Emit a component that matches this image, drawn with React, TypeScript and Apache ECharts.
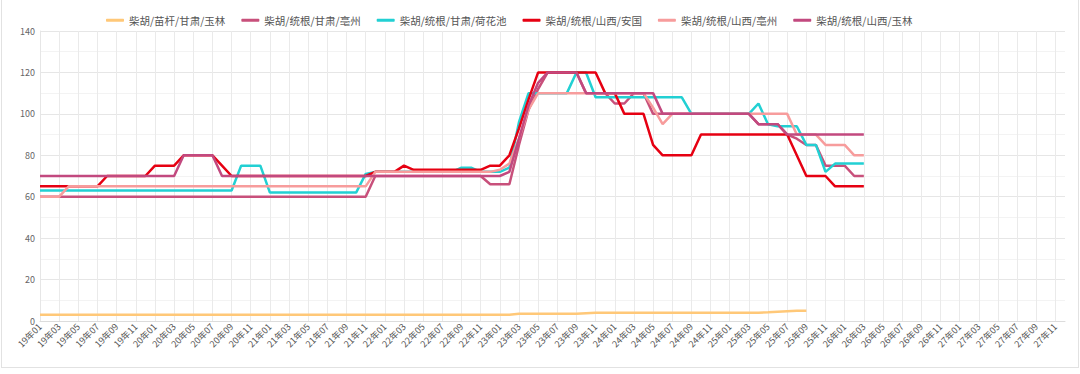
import React, { useEffect, useRef } from "react";
import * as echarts from "echarts";

const rep = (v: number, n: number): number[] => Array(n).fill(v);

// Month categories 19年01 .. 27年12
const categories: string[] = [];
for (let y = 19; y <= 27; y++) {
  for (let m = 1; m <= 12; m++) categories.push(`${y}年${String(m).padStart(2, "0")}`);
}

const seriesNames = [
  "柴胡/苗杆/甘肃/玉林",
  "柴胡/统根/甘肃/亳州",
  "柴胡/统根/甘肃/荷花池",
  "柴胡/统根/山西/安国",
  "柴胡/统根/山西/亳州",
  "柴胡/统根/山西/玉林",
];

const seriesColors = ["#FFC878", "#C8507B", "#22D0D3", "#E60012", "#F79C9C", "#C2497F"];

const miaoGanGansuYulin: number[] = [
  ...rep(3, 50), ...rep(3.5, 7), 3.8, ...rep(4, 18), 4.2, 4.5, 4.7, 4.9, 5,
];

const tongGenGansuBozhou: number[] = [
  ...rep(60, 35), ...rep(70, 12), ...rep(66, 3), 85, 102, 112, ...rep(120, 4),
  ...rep(110, 3), 105, 105, 110, 110, ...rep(100, 11), ...rep(95, 3), 90, 88, 85, 85,
  ...rep(75, 3), 70, 70,
];

const tongGenGansuHehuachi: number[] = [
  ...rep(63, 21), ...rep(75, 3), ...rep(62, 10), 71, ...rep(72, 9), 74, 74, ...rep(72, 3),
  74, 96, ...rep(110, 5), 120, 120, ...rep(108, 10), ...rep(100, 7), 105, 95,
  ...rep(94, 3), 85, 85, 72, ...rep(76, 4),
];

const tongGenShanxiAnguo: number[] = [
  ...rep(65, 7), ...rep(70, 5), ...rep(75, 3), ...rep(80, 4), 75, ...rep(70, 15),
  ...rep(72, 3), 75, ...rep(73, 8), 75, 75, 80, 93, 107, ...rep(120, 7), 110, 110,
  ...rep(100, 3), 85, ...rep(80, 4), ...rep(90, 10), 80, ...rep(70, 3), ...rep(65, 4),
];

const tongGenShanxiBozhou: number[] = [
  ...rep(60, 3), ...rep(65, 32), ...rep(72, 13), 73, 76, 88, 102, ...rep(110, 12),
  103, 95, ...rep(100, 13), ...rep(90, 3), ...rep(85, 3), 80, 80,
];

const tongGenShanxiYulin: number[] = [
  ...rep(70, 15), ...rep(80, 4), ...rep(70, 30), 72, 88, 104, 115, ...rep(120, 4),
  ...rep(110, 8), ...rep(100, 10), ...rep(95, 3), ...rep(90, 9),
];

const seriesData = [
  miaoGanGansuYulin,
  tongGenGansuBozhou,
  tongGenGansuHehuachi,
  tongGenShanxiAnguo,
  tongGenShanxiBozhou,
  tongGenShanxiYulin,
];

const yTicks = { min: 0, max: 140, interval: 20 };

export default function App() {
  const ref = useRef<HTMLDivElement>(null);
  useEffect(() => {
    if (!ref.current) return;
    const chart = echarts.init(ref.current, undefined, { renderer: "svg" });
    const font = "'Noto Sans CJK SC', 'Microsoft YaHei', sans-serif";
    chart.setOption({
      animation: false,
      textStyle: { fontFamily: font },
      legend: {
        left: 101,
        top: 10,
        icon: "roundRect",
        itemWidth: 18,
        itemHeight: 3,
        itemGap: 16,
        textStyle: { fontSize: 10.5, color: "#555", fontFamily: font },
        data: seriesNames,
      },
      grid: { left: 40, right: 15, top: 31, bottom: 53, containLabel: false },
      xAxis: {
        type: "category",
        data: categories,
        boundaryGap: false,
        axisLine: { lineStyle: { color: "#dcdcdc" } },
        axisTick: { show: false },
        axisLabel: {
          interval: 1,
          rotate: 45,
          fontSize: 9,
          color: "#555",
          margin: 4,
          fontFamily: font,
        },
        splitLine: { show: true, interval: 1, lineStyle: { color: "#eaeaea", width: 1 } },
      },
      yAxis: {
        type: "value",
        min: yTicks.min,
        max: yTicks.max,
        interval: yTicks.interval,
        axisLine: { show: true, lineStyle: { color: "#e6e6e6" } },
        axisTick: { show: false },
        axisLabel: { fontSize: 9, color: "#666", margin: 5, fontFamily: font },
        splitLine: { show: true, lineStyle: { color: "#e6e6e6" } },
        minorTick: { show: false, splitNumber: 2 },
        minorSplitLine: { show: true, lineStyle: { color: "#f3f3f3" } },
      },
      series: seriesNames.map((name, i) => ({
        name,
        type: "line",
        data: seriesData[i],
        symbol: "none",
        showSymbol: false,
        color: seriesColors[i],
        lineStyle: { width: 2.5, color: seriesColors[i] },
      })),
    });
    return () => chart.dispose();
  }, []);
  return (
    <div style={{ position: "fixed", left: 0, top: 0, width: 1080, height: 374, background: "#fff" }}>
      <div ref={ref} style={{ position: "absolute", left: 0, top: 0, width: 1080, height: 374 }} />
      <div
        style={{
          position: "absolute",
          left: 1,
          top: -1,
          width: 1078,
          height: 369,
          border: "1px solid #e2e2e2",
          boxSizing: "border-box",
          pointerEvents: "none",
        }}
      />
    </div>
  );
}
